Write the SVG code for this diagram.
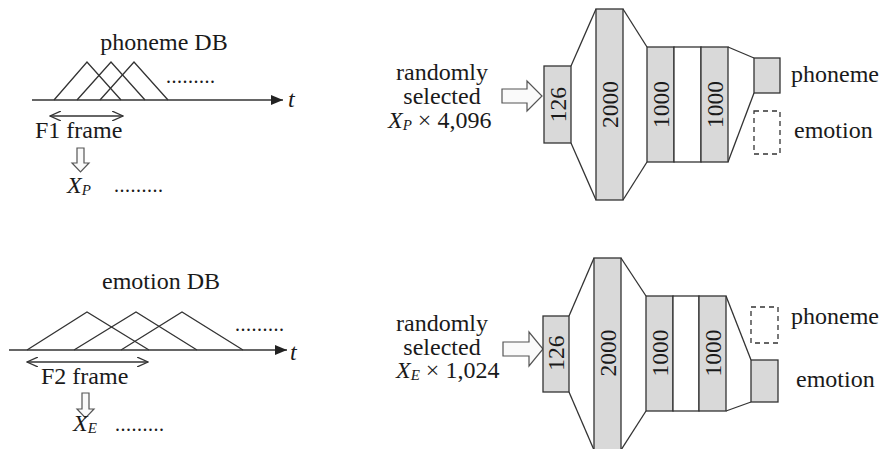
<svg xmlns="http://www.w3.org/2000/svg" width="881" height="449" viewBox="0 0 881 449" font-family="'Liberation Serif', 'DejaVu Serif', serif">
<style>
text{fill:#1a1a1a;font-size:24px}
.it{font-style:italic}
.sub{font-size:15px;font-style:italic}
.rot{font-size:23.5px}
.ln{stroke:#333;stroke-width:1.3;fill:none}
.box{fill:#d9d9d9;stroke:#333;stroke-width:1.3}
.wbox{fill:#fff;stroke:#333;stroke-width:1.3}
.dash{fill:none;stroke:#333;stroke-width:1.3;stroke-dasharray:5,4}
.hol{fill:#fafafa;stroke:#555;stroke-width:1.2}
.mid{text-anchor:middle}
.dots{font-size:20px;letter-spacing:0.5px}
</style>
<defs>
<marker id="ah" viewBox="0 0 12 10" refX="12" refY="5" markerWidth="12" markerHeight="10" markerUnits="userSpaceOnUse" orient="auto"><path d="M0,0 L12,5 L0,10 z" fill="#222"/></marker>
<marker id="oa" viewBox="0 0 12 10" refX="11" refY="5" markerWidth="12" markerHeight="10" markerUnits="userSpaceOnUse" orient="auto-start-reverse"><path d="M0,0 L11,5 L0,10" fill="none" stroke="#333" stroke-width="1.3"/></marker>
</defs>

<!-- top-left: phoneme DB -->
<g id="phonemeDB">
<text x="164" y="50" class="mid">phoneme DB</text>
<polyline class="ln" points="54,100 87,62 121,100"/>
<polyline class="ln" points="77,100 111,62 145,100"/>
<polyline class="ln" points="100,100 134,62 168,100"/>
<line class="ln" x1="32" y1="100" x2="283" y2="100" marker-end="url(#ah)"/>
<text x="288" y="107" class="it">t</text>
<text x="166" y="83" class="dots">.........</text>
<line class="ln" x1="50" y1="116" x2="123" y2="116" marker-start="url(#oa)" marker-end="url(#oa)"/>
<text x="35" y="138">F1 frame</text>
<polygon class="hol" points="77,148 84,148 84,163 89,163 80.5,172 72,163 77,163"/>
<text x="67" y="193" class="it">X<tspan class="sub" dy="2">P</tspan></text>
<text x="114" y="192" class="dots">.........</text>
</g>

<!-- bottom-left: emotion DB -->
<g id="emotionDB">
<text x="161" y="289" class="mid">emotion DB</text>
<polyline class="ln" points="27,350 87,312 149,350"/>
<polyline class="ln" points="74,350 136,312 197,350"/>
<polyline class="ln" points="121,350 182,312 243,350"/>
<line class="ln" x1="9" y1="350" x2="287" y2="350" marker-end="url(#ah)"/>
<text x="290" y="360" class="it">t</text>
<text x="235" y="331" class="dots">.........</text>
<line class="ln" x1="27" y1="362" x2="148" y2="362" marker-start="url(#oa)" marker-end="url(#oa)"/>
<text x="41" y="384">F2 frame</text>
<polygon class="hol" points="82,393 89,393 89,409 94,409 85.5,418 77,409 82,409"/>
<text x="73" y="431" class="it">X<tspan class="sub" dy="2">E</tspan></text>
<text x="115" y="431" class="dots">.........</text>
</g>

<!-- top network -->
<g id="inputTop">
<text x="442" y="80" class="mid">randomly</text>
<text x="442" y="104" class="mid">selected</text>
<text x="388" y="128"><tspan class="it">X</tspan><tspan class="sub" dy="2">P</tspan><tspan dy="-2"> × 4,096</tspan></text>
<polygon class="hol" points="502,89 527,89 527,81 542,96 527,111 527,103 502,103"/>
</g>
<g id="netTop">
<g class="ln">
<line x1="571" y1="66" x2="596" y2="9"/>
<line x1="571" y1="143" x2="596" y2="200"/>
<line x1="623" y1="9" x2="647" y2="47"/>
<line x1="623" y1="200" x2="647" y2="162"/>
<line x1="728" y1="47" x2="754" y2="58"/>
<line x1="728" y1="162" x2="754" y2="93"/>
</g>
<rect class="box" x="544" y="66" width="27" height="77"/>
<rect class="box" x="596" y="9" width="27" height="191"/>
<rect class="box" x="647" y="47" width="27" height="115"/>
<rect class="wbox" x="674" y="47" width="27" height="115"/>
<rect class="box" x="701" y="47" width="27" height="115"/>
<rect class="box" x="754" y="58" width="26" height="35"/>
<rect class="dash" x="754" y="111" width="26" height="43"/>
<text transform="translate(557.5,104.5) rotate(-90)" x="0" y="8" class="mid rot">126</text>
<text transform="translate(609.5,104.5) rotate(-90)" x="0" y="8" class="mid rot">2000</text>
<text transform="translate(660.5,104.5) rotate(-90)" x="0" y="8" class="mid rot">1000</text>
<text transform="translate(714.5,104.5) rotate(-90)" x="0" y="8" class="mid rot">1000</text>
<text x="791" y="82">phoneme</text>
<text x="794" y="138">emotion</text>
</g>

<!-- bottom network -->
<g id="inputBottom">
<text x="442" y="331" class="mid">randomly</text>
<text x="442" y="355" class="mid">selected</text>
<text x="396" y="378"><tspan class="it">X</tspan><tspan class="sub" dy="2">E</tspan><tspan dy="-2"> × 1,024</tspan></text>
<polygon class="hol" points="503,342 529,342 529,332 543,349 529,366 529,356 503,356"/>
</g>
<g id="netBottom">
<g class="ln">
<line x1="569" y1="316" x2="594" y2="258"/>
<line x1="569" y1="392" x2="594" y2="450"/>
<line x1="621" y1="258" x2="646" y2="296"/>
<line x1="621" y1="450" x2="646" y2="411"/>
<line x1="726" y1="296" x2="751" y2="360"/>
<line x1="726" y1="411" x2="751" y2="402"/>
</g>
<rect class="box" x="543" y="316" width="26" height="76"/>
<rect class="box" x="594" y="258" width="27" height="195"/>
<rect class="box" x="646" y="296" width="27" height="115"/>
<rect class="wbox" x="673" y="296" width="26" height="115"/>
<rect class="box" x="699" y="296" width="27" height="115"/>
<rect class="dash" x="751" y="307" width="27" height="36"/>
<rect class="box" x="751" y="360" width="27" height="42"/>
<text transform="translate(556,353) rotate(-90)" x="0" y="8" class="mid rot">126</text>
<text transform="translate(607.5,353) rotate(-90)" x="0" y="8" class="mid rot">2000</text>
<text transform="translate(659.5,353) rotate(-90)" x="0" y="8" class="mid rot">1000</text>
<text transform="translate(712.5,353) rotate(-90)" x="0" y="8" class="mid rot">1000</text>
<text x="791" y="324">phoneme</text>
<text x="796" y="387">emotion</text>
</g>
</svg>
